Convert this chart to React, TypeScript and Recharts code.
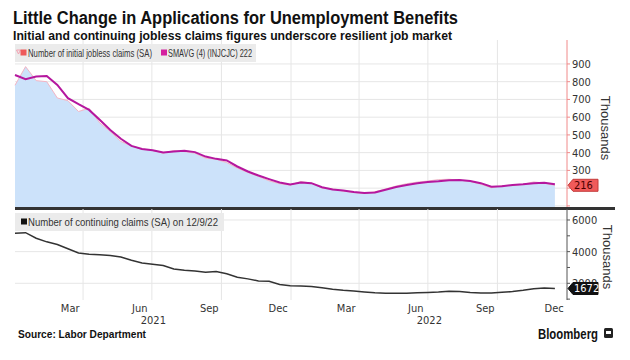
import React from "react";
import {
  ComposedChart,
  Area,
  Line,
  XAxis,
  YAxis,
  CartesianGrid,
} from "recharts";

/* Initial jobless claims (area + 4wk avg) over continuing claims, Jan 2021 - Dec 2022.
 * x is days since 2021-01-01, one point every two weeks. Values in thousands. */

const weekDays = [
  0, 14, 28, 42, 56, 70, 84, 98, 112, 126, 140, 154, 168, 182, 196, 210, 224,
  238, 252, 266, 280, 294, 308, 322, 336, 350, 364, 378, 392, 406, 420, 434,
  448, 462, 476, 490, 504, 518, 532, 546, 560, 574, 588, 602, 616, 630, 644,
  658, 672, 686, 700, 714,
];

const initialClaims = [
  780, 885, 806, 800, 708, 693, 632, 650, 568, 519, 463, 438, 420, 412, 397,
  412, 406, 397, 369, 363, 344, 313, 288, 266, 241, 225, 217, 238, 228, 200,
  196, 183, 175, 170, 180, 195, 212, 225, 234, 240, 248, 250, 245, 238, 222,
  202, 215, 214, 222, 235, 228, 216,
];

const movingAvg = [
  838, 814, 829, 832, 782, 707, 673, 641, 585, 528, 478, 438, 421, 414, 401,
  407, 410, 403, 378, 365, 356, 322, 294, 271, 251, 232, 221, 232, 228, 205,
  192, 186, 178, 172, 176, 191, 206, 218, 228, 235, 239, 245, 246, 240, 228,
  208, 210, 218, 222, 228, 230, 222,
];

const continuingClaims = [
  5160, 5200, 4850, 4620, 4450, 4180, 3920, 3840, 3800, 3760, 3660, 3460, 3290,
  3210, 3130, 2900, 2820, 2770, 2700, 2740, 2600, 2380, 2280, 2150, 2130, 1930,
  1840, 1830, 1800, 1720, 1630, 1560, 1510, 1450, 1400, 1375, 1370, 1375, 1400,
  1420, 1450, 1500, 1480, 1420, 1380, 1390, 1430, 1480, 1560, 1660, 1700, 1672,
];

const monthTicks = [73, 165, 257, 348, 438, 530, 622, 713];
const monthLabels = ["Mar", "Jun", "Sep", "Dec", "Mar", "Jun", "Sep", "Dec"];
const yearTicks = [183, 548];
const yearLabels = ["2021", "2022"];
const quarterStarts = [90, 181, 273, 365, 455, 546, 638];

const initialTicks = [100, 200, 300, 400, 500, 600, 700, 800, 900];
const continuingTicks = [1000, 2000, 3000, 4000, 5000, 6000];

const data = weekDays.map((day, i) => ({
  day,
  initial: initialClaims[i],
  avg: movingAvg[i],
  continuing: continuingClaims[i],
}));

const LAST = data.length - 1;
const NARROW = '"Liberation Sans Narrow", "DejaVu Sans Condensed", "Liberation Sans", sans-serif';
const SANS = '"Liberation Sans", sans-serif';
const TXT = "#333";

function makeTick(show: (v: number) => boolean) {
  return (props: any) => {
    const { x, y, payload } = props;
    if (!show(payload.value)) return null;
    return (
      <text x={x} y={y} dy="0.35em" fontSize={11} fill={TXT} fontFamily={NARROW}>
        {payload.value}
      </text>
    );
  };
}

function EndTag({ y, index, value, fill, color, stroke }: any) {
  if (index !== LAST) return null;
  const ax = 567;
  return (
    <g>
      <path
        d={`M${ax + 1},${y} L${ax + 6},${y - 6} L${ax + 31},${y - 6} L${ax + 31},${y + 6} L${ax + 6},${y + 6} Z`}
        fill={fill}
        stroke={stroke}
        strokeWidth={1}
      />
      <text x={ax + 7} y={y} dy="0.36em" fontSize={11} fill={color} fontFamily={NARROW}>
        {value}
      </text>
    </g>
  );
}

// legend label squeezed horizontally to the width it takes in the original
const SQUEEZE = 0.75;
const legendText = (x: number, y: number, w: number, s: string) => (
  <text
    transform={`translate(${x},${y}) scale(${SQUEEZE},1)`}
    fontSize={10.5}
    fill={TXT}
    fontFamily={SANS}
    textLength={w / SQUEEZE}
    lengthAdjust="spacingAndGlyphs"
  >
    {s}
  </text>
);

export default function App() {
  return (
    <div style={{ position: "absolute", left: 0, top: 0, width: 630, height: 360, background: "#fff" }}>
      <svg width={630} height={44} style={{ position: "absolute", left: 0, top: 0 }}>
        <text x={13} y={24} fontSize={18} fontWeight="bold" fill="#111" fontFamily={SANS} textLength={445} lengthAdjust="spacingAndGlyphs">
          Little Change in Applications for Unemployment Benefits
        </text>
        <text x={13} y={40} fontSize={13} fontWeight="bold" fill="#111" fontFamily={SANS} textLength={439} lengthAdjust="spacingAndGlyphs">
          Initial and continuing jobless claims figures underscore resilient job market
        </text>
      </svg>

      <div style={{ position: "absolute", left: 0, top: 40 }}>
        <ComposedChart width={630} height={168} data={data} margin={{ top: 0, right: 13, bottom: 0, left: 15 }}>
          <CartesianGrid stroke="#e6e6e6" horizontalValues={initialTicks} verticalValues={quarterStarts} />
          <XAxis dataKey="day" type="number" domain={[0, 730]} hide />
          <YAxis
            orientation="right"
            width={50}
            domain={[88, 1035]}
            ticks={initialTicks}
            interval={0}
            allowDataOverflow
            axisLine={{ stroke: "#f08a8a" }}
            tickLine={{ stroke: "#f08a8a" }}
            tickSize={3}
            tickMargin={2}
            tick={makeTick((v) => v >= 300)}
          />
          <Area
            dataKey="initial"
            type="linear"
            stroke="#f3b4c4"
            strokeWidth={1}
            fill="#cce2fa"
            fillOpacity={1}
            baseValue="dataMin"
            isAnimationActive={false}
            label={(p: any) => <EndTag {...p} fill="#f05a5a" stroke="#c43a3a" color="#4a0000" />}
          />
          <Line dataKey="avg" type="linear" stroke="#b5179e" strokeWidth={2} dot={false} isAnimationActive={false} />
        </ComposedChart>
      </div>

      <div style={{ position: "absolute", left: 15, top: 207, width: 600, height: 2.5, background: "#333" }} />

      <div style={{ position: "absolute", left: 0, top: 209 }}>
        <ComposedChart width={630} height={121} data={data} margin={{ top: 0, right: 13, bottom: 0, left: 15 }}>
          <CartesianGrid stroke="#e6e6e6" horizontalValues={[2000, 4000, 6000]} verticalValues={quarterStarts} />
          <XAxis
            dataKey="day"
            type="number"
            domain={[0, 730]}
            ticks={monthTicks}
            interval={0}
            tickFormatter={(v) => monthLabels[monthTicks.indexOf(v)]}
            axisLine={false}
            tickLine={false}
            tickSize={0}
            tickMargin={4}
            height={12}
            tick={{ fontSize: 11, fill: TXT, fontFamily: NARROW }}
          />
          <XAxis
            xAxisId="year"
            dataKey="day"
            type="number"
            domain={[0, 730]}
            ticks={yearTicks}
            interval={0}
            tickFormatter={(v) => yearLabels[yearTicks.indexOf(v)]}
            axisLine={false}
            tickLine={false}
            tickSize={0}
            tickMargin={4}
            height={18}
            tick={{ fontSize: 11, fill: TXT, fontFamily: NARROW }}
          />
          <YAxis
            orientation="right"
            width={50}
            domain={[945, 6695]}
            ticks={continuingTicks}
            interval={0}
            allowDataOverflow
            axisLine={{ stroke: "#555" }}
            tickLine={{ stroke: "#555" }}
            tickSize={3}
            tickMargin={2}
            tick={makeTick((v) => v % 2000 === 0)}
          />
          <Line
            dataKey="continuing"
            type="linear"
            stroke="#333"
            strokeWidth={1.5}
            dot={false}
            isAnimationActive={false}
            label={(p: any) => <EndTag {...p} fill="#111" stroke="#111" color="#fff" />}
          />
        </ComposedChart>
      </div>

      <svg width={630} height={360} style={{ position: "absolute", left: 0, top: 0, pointerEvents: "none" }}>
        {/* legends */}
        <rect x={15} y={44} width={241} height={18} fill="#ebebeb" />
        <path d="M16.5,50 L20.5,50 L18.5,54 Z" fill="none" stroke="#f3a0b0" strokeWidth={1} />
        <rect x={20.5} y={49.5} width={6} height={6} fill="#ee5a5a" />
        {legendText(28, 56.5, 124, "Number of initial jobless claims (SA)")}
        <rect x={161} y={49.5} width={6} height={6} fill="#d4209f" />
        {legendText(168, 56.5, 84, "SMAVG (4) (INJCJC) 222")}

        <rect x={15} y={213} width={209} height={18} fill="#ebebeb" />
        <rect x={21} y={218.5} width={6} height={6} fill="#111" />
        {legendText(28, 225.5, 190, "Number of continuing claims (SA) on 12/9/22")}

        <text transform="translate(601,128) rotate(90)" textAnchor="middle" fontSize={13} fill={TXT} fontFamily={SANS}>
          Thousands
        </text>
        <text transform="translate(603,257) rotate(90)" textAnchor="middle" fontSize={13} fill={TXT} fontFamily={SANS}>
          Thousands
        </text>
        <text x={18} y={338} fontSize={11} fontWeight="bold" fill="#111" fontFamily={SANS} textLength={128} lengthAdjust="spacingAndGlyphs">
          Source: Labor Department
        </text>
        <text x={538} y={339} fontSize={14} fontWeight="bold" fill="#111" fontFamily={SANS} textLength={60} lengthAdjust="spacingAndGlyphs">
          Bloomberg
        </text>
        <rect x={604} y={328} width={9} height={10} rx={1.5} fill="#222" />
        <rect x={606} y={331} width={5} height={3} fill="#fff" />
      </svg>
    </div>
  );
}
